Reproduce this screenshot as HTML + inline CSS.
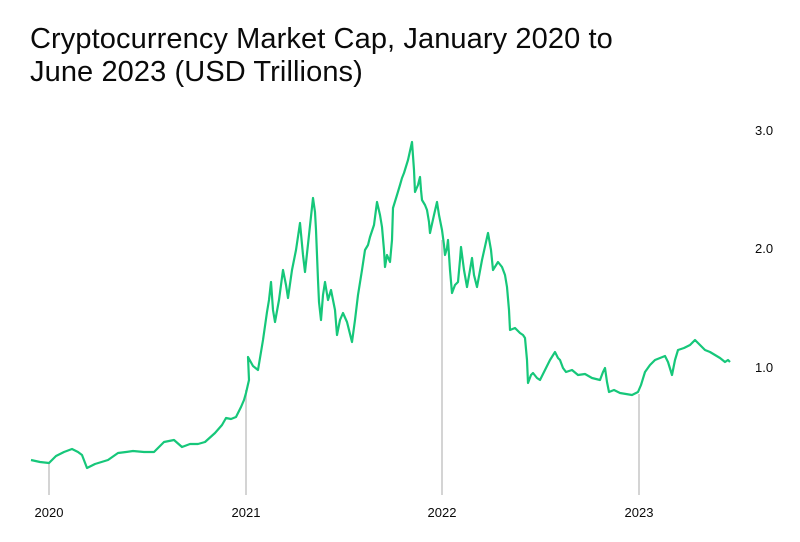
<!DOCTYPE html>
<html><head><meta charset="utf-8"><style>
body{margin:0;background:#fff;}
.t{position:absolute;left:30px;top:23px;font-family:"Liberation Sans",sans-serif;font-size:29px;line-height:33px;color:#0a0a0a;letter-spacing:0.1px;}
</style></head><body>
<div style="position:relative;width:800px;height:542px;overflow:hidden">
<div class="t">Cryptocurrency Market Cap, January 2020 to<br>June 2023 (USD Trillions)</div>
<svg width="800" height="542" style="position:absolute;left:0;top:0">
<g stroke="#d4d4d4" stroke-width="2">
<line x1="49" y1="463" x2="49" y2="495"/>
<line x1="246" y1="390" x2="246" y2="495"/>
<line x1="442" y1="240" x2="442" y2="495"/>
<line x1="639" y1="394" x2="639" y2="495"/>
</g>
<g font-family="Liberation Sans,sans-serif" font-size="13" fill="#0a0a0a">
<text x="49" y="517" text-anchor="middle">2020</text>
<text x="246" y="517" text-anchor="middle">2021</text>
<text x="442" y="517" text-anchor="middle">2022</text>
<text x="639" y="517" text-anchor="middle">2023</text>
<text x="755" y="135">3.0</text>
<text x="755" y="253">2.0</text>
<text x="755" y="372">1.0</text>
</g>
<polyline fill="none" stroke="#16c77a" stroke-width="2.2" stroke-linejoin="round" points="
31,460 40,462 49,463 56,456 64,452 72,449 78,452 82,455 87,468 95,464 108,460 118,453 126,452 133,451 144,452 154,452 160,446 164,442 174,440 182,447 190,444 198,444 205,442 215,433 222,425 226,418 231,419 236,417 241,407 244,400 246,393 249,380 248,357 253,366 258,370 263,340 267,312 269,300 271,282 273,310 275,322 279,300 283,270 286,285 288,298 292,270 296,250 300,223 303,255 305,272 309,235 313,198 315,212 316,230 318,280 319,302 321,320 323,295 325,282 328,300 331,290 335,310 337,335 340,320 343,313 347,322 352,342 355,320 358,295 362,270 365,250 368,245 370,237 374,225 377,202 380,215 382,227 384,250 385,267 387,255 390,262 392,240 393,208 397,195 400,185 402,178 404,173 408,160 412,142 414,170 415,192 418,185 420,177 421,190 422,200 425,205 427,210 429,222 430,233 434,215 437,202 439,215 442,230 444,245 445,255 447,248 448,240 450,270 452,293 455,285 458,282 460,260 461,247 464,270 467,287 470,270 472,258 474,275 477,287 482,260 488,233 491,250 493,270 498,262 502,267 505,275 507,287 509,310 510,330 515,328 520,333 523,335 525,338 527,360 528,383 531,375 533,373 537,378 540,380 545,370 550,360 555,352 558,358 560,360 563,368 566,372 572,370 578,375 585,374 592,378 600,380 603,372 605,368 607,382 609,392 614,390 620,393 626,394 632,395 636,393 638,392 641,385 645,372 650,365 655,360 660,358 665,356 668,362 672,375 675,360 678,350 684,348 690,345 695,340 700,345 705,350 710,352 715,355 720,358 725,362 728,360 730,362"/>
</svg>
</div>
</body></html>
